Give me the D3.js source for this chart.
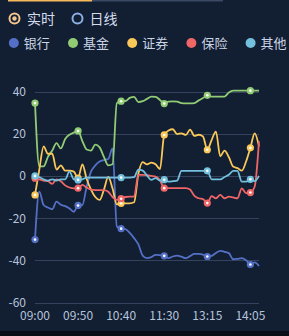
<!DOCTYPE html>
<head>
  <meta charset="utf-8">
  <script src="https://d3js.org/d3.v7.min.js"></script>
  <style>
    html, body { margin: 0; padding: 0; background: #121e32; }
    svg { display: block; }
    text { font-family: "Noto Sans CJK SC", "Noto Sans", sans-serif; }
  </style>
</head>
<body>
<svg width="289" height="336"></svg>

<script type="text/javascript">

// time categories (one point per 5 min)
var times = ["09:00","09:05","09:10","09:15","09:20","09:25","09:30","09:35","09:40","09:45",
             "09:50","09:55","10:00","10:05","10:10","10:15","10:20","10:25","10:30","10:35",
             "10:40","10:45","10:50","10:55","11:00","11:05","11:10","11:15","11:20","11:25",
             "11:30","12:30","12:35","12:40","12:45","12:50","12:55","13:00","13:05","13:10",
             "13:15","13:20","13:25","13:30","13:35","13:40","13:45","13:50","13:55","14:00",
             "14:05","14:10","14:15"];
var xTickLabels = ["09:00","09:50","10:40","11:30","13:15","14:05"];
var yTicks = [40, 20, 0, -20, -40, -60];

var names = ["银行", "基金", "证券", "保险", "其他"];
var colors = ["#5470c6", "#91cc75", "#fac858", "#ee6666", "#73c0de"];

var bank = [-30.2, -7.5, -13.8, -15, -15.8, -12.2, -13.7, -14.3, -15.4, -17,
            -14, -13.8, -5, 2, 5, 6.8, 7.5, 8, 13, -24,
            -25, -25.2, -27, -29.5, -32.5, -37.8, -39, -38.5, -37.4, -37.5,
            -37.9, -39, -38.2, -37.8, -38.3, -39, -38, -37, -37, -37.3,
            -38.2, -37.9, -36.5, -35.5, -36, -36.6, -39.5, -39.3, -39, -40,
            -42, -41, -42.7];
var fund = [34.5, 4.5, 4.5, 9, 12, 15.5, 13, 17.5, 19.5, 20.5,
            21.3, 16.5, 12.5, 12, 14.8, 13.5, 9, 5, 5.5, 34.5,
            35.4, 35.5, 37, 37.5, 35, 35.4, 36.5, 37.6, 37.5, 36,
            34.3, 35.2, 35.3, 35.2, 34.5, 34.4, 34.4, 34.5, 35.8, 36.9,
            38.2, 37.6, 37.6, 37.6, 37.6, 39.5, 40.4, 40.4, 40.4, 40.4,
            40.4, 40.4, 40.4];
var broker = [-9, 3, 14, 10.5, 10.5, 3, 5, 2.5, 2.5, 2,
              -1, 5.5, -1.5, -6.5, -10, -11.4, -6.5, -0.5, -6, -13.5,
              -13, -13, -13, -12.5, 1, 6.5, 5.5, 6.3, 5.5, 3.2,
              19.4, 21.5, 22.1, 19.8, 20.2, 19.4, 21.9, 19, 19.5, 18.7,
              12.4, 17, 21, 9.3, 12, 8.9, 4.4, 3.7, 2.5, 6.8,
              13.3, 20.2, 14];
var insure = [-1.1, -1.6, -2.2, -2.5, -3.8, -1.6, -2.5, -4.5, -5.5, -5.9,
              -5.8, -4.3, -5.5, -6.5, -6.7, -6.7, -6.7, -7.5, -10, -11.4,
              -10.8, -10, -9.8, -9.8, 0.5, 0.5, 0.3, 0, -0.3, -2,
              -5.8, -5.8, -5.8, -5.8, -5.8, -5.8, -6.5, -9.5, -10.6, -11,
              -12.9, -9.6, -10.6, -9, -10.6, -9.8, -10.2, -10.6, -5.9, -8.2,
              -7.9, -5, 16.5];
var other = [0, -0.6, -1.6, -2.2, -1.6, -2.2, -1.6, -1.6, 2, -1.6,
             -1.9, -1.6, -0.8, -0.8, -0.8, -0.8, -0.8, -0.8, -0.8, -0.8,
             -0.8, -0.8, -0.8, -0.6, 3, 2.5, 0.2, -1.9, -1.1, -2.2,
             -1.8, -2.7, -2.5, -2.2, 2.4, 2.4, 2.4, 2.4, 2.4, 2.4,
             2.4, -1.6, -1.6, -1.6, -0.5, 0.5, 2.4, 2.4, -2.7, -2.7,
             -1.6, -2.5, 0];

var seriesData = [bank, fund, broker, insure, other];

var svg = d3.select("svg");

// bottom dark strip
svg.append("rect").attr("x", 0).attr("y", 331).attr("width", 289).attr("height", 5).attr("fill", "#0a0e16");

// tab underline at top
svg.append("rect").attr("x", 92).attr("y", 0).attr("width", 131).attr("height", 1.5).attr("fill", "#3b4a62");
svg.append("rect").attr("x", 8).attr("y", 0).attr("width", 84).attr("height", 1.5).attr("fill", "#f6b95c");

// radio toggles
var radio = svg.append("g");
radio.append("circle").attr("cx", 14.5).attr("cy", 18.5).attr("r", 5).attr("fill", "none")
  .attr("stroke", "#f3c690").attr("stroke-width", 2);
radio.append("circle").attr("cx", 14.5).attr("cy", 18.5).attr("r", 2.2).attr("fill", "#f3c690");
radio.append("text").attr("x", 27).attr("y", 23.5).attr("font-size", 14).attr("fill", "#d2dcec").text("实时");
radio.append("circle").attr("cx", 77.5).attr("cy", 18.5).attr("r", 5).attr("fill", "none")
  .attr("stroke", "#8db0e4").attr("stroke-width", 2);
radio.append("text").attr("x", 89.5).attr("y", 23.5).attr("font-size", 14).attr("fill", "#d2dcec").text("日线");

// legend
var legend = svg.selectAll(".lg")
  .data(names)
  .enter().append("g")
    .attr("class", "lg")
    .attr("transform", function(d, i) { return "translate(" + (13.8 + i * 59.2) + ",43)"; });
legend.append("circle").attr("r", 5).attr("fill", function(d, i) { return colors[i]; });
legend.append("text").attr("x", 10).attr("y", 4.8).attr("font-size", 13).attr("fill", "#c9d4e6")
  .text(function(d) { return d; });

// scales
var x = d3.scalePoint().domain(times).range([35, 259]);
var y = d3.scaleLinear().domain([-60, 40]).range([302.5, 91.5]);

// grid + y labels
svg.selectAll(".grid")
  .data(yTicks)
  .enter().append("line")
    .attr("x1", 35).attr("x2", 259)
    .attr("y1", function(d) { return Math.round(y(d)) + 0.5; })
    .attr("y2", function(d) { return Math.round(y(d)) + 0.5; })
    .attr("stroke", "#34425b").attr("stroke-width", 1);

svg.selectAll(".ylab")
  .data(yTicks)
  .enter().append("text")
    .attr("x", 26).attr("y", function(d) { return y(d) + 4.5; })
    .attr("text-anchor", "end").attr("font-size", 12).attr("fill", "#b6c4db")
    .text(function(d) { return d; });

svg.selectAll(".xlab")
  .data(xTickLabels)
  .enter().append("text")
    .attr("x", function(d) { return x(d); }).attr("y", 320)
    .attr("text-anchor", "middle").attr("font-size", 12).attr("fill", "#b6c4db")
    .text(function(d) { return d; });

// lines
var line = d3.line()
  .x(function(d, i) { return x(times[i]); })
  .y(function(d) { return y(d); })
  .curve(d3.curveMonotoneX);

seriesData.forEach(function(vals, s) {
  svg.append("path")
    .attr("d", line(vals))
    .attr("fill", "none")
    .attr("stroke", colors[s])
    .attr("stroke-width", 1.8)
    .attr("stroke-linejoin", "round");
});

// markers every 10 points
seriesData.forEach(function(vals, s) {
  var pts = vals.map(function(v, i) { return { v: v, t: times[i] }; })
    .filter(function(d, i) { return i % 10 == 0; });
  var g = svg.append("g");
  g.selectAll("circle.o")
    .data(pts).enter().append("circle")
      .attr("cx", function(d) { return x(d.t); })
      .attr("cy", function(d) { return y(d.v); })
      .attr("r", 3.6).attr("fill", colors[s]);
  g.selectAll("circle.i")
    .data(pts).enter().append("circle")
      .attr("cx", function(d) { return x(d.t); })
      .attr("cy", function(d) { return y(d.v); })
      .attr("r", 1.3).attr("fill", "#ffffff");
});

</script>
</body>
</html>
